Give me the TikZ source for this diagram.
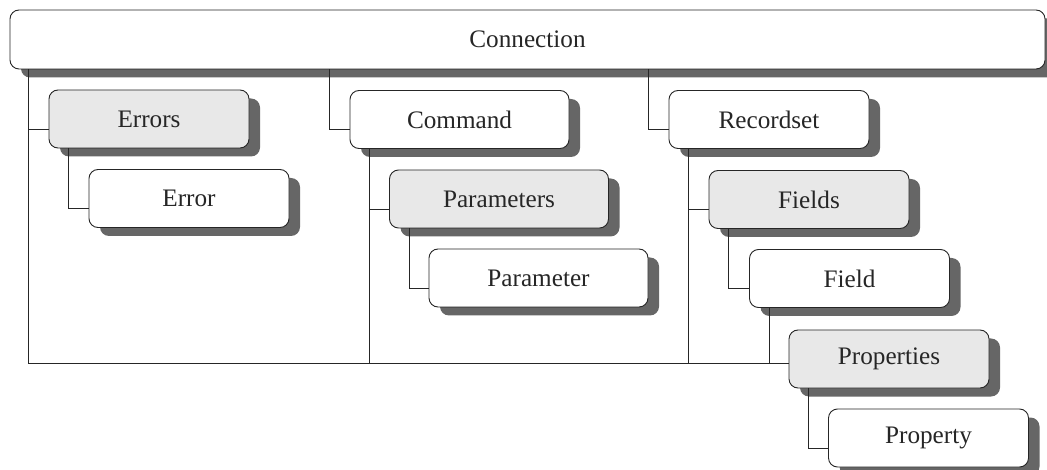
\documentclass[tikz,border=0pt]{standalone}
\usepackage{fontspec}
\setmainfont{Liberation Serif}
\usetikzlibrary{shadows}
\definecolor{shadowgray}{HTML}{666666}
\definecolor{collfill}{HTML}{E8E8E8}
\tikzset{
  obj/.style={draw=black!85, line width=0.9pt, rounded corners=9pt, fill=white,
    minimum width=200pt, minimum height=58pt, inner sep=0pt,
    font=\fontsize{25.2}{29}\selectfont, text=black!85,
    drop shadow={shadow xshift=11pt, shadow yshift=-8.5pt, fill=shadowgray, opacity=1}},
  coll/.style={obj, fill=collfill},
  wide/.style={minimum width=219pt},
  link/.style={draw=black!85, line width=0.8pt}
}
\begin{document}
\begin{tikzpicture}[x=1pt, y=-1pt]
  \useasboundingbox (0,0) rectangle (1047,470);
  \clip (0,0) rectangle (1047,470);

  % root object
  \node[obj, minimum width=1035pt, minimum height=59pt] (conn) at (527.5,39.5) {Connection};

  % Errors branch
  \node[coll] (errors) at (149,119) {Errors};
  \node[obj]  (error)  at (189,198.5) {Error};

  % Command branch
  \node[obj, wide]  (command)    at (459.5,119.5) {Command};
  \node[coll, wide] (parameters) at (499,199) {Parameters};
  \node[obj, wide]  (parameter)  at (538.5,278) {Parameter};

  % Recordset branch
  \node[obj]  (recordset)  at (769,119.5) {Recordset};
  \node[coll] (fields)     at (809,199.5) {Fields};
  \node[obj]  (field)      at (849.5,278.5) {Field};
  \node[coll] (properties) at (889,359) {Properties};
  \node[obj]  (property)   at (928.5,438) {Property};

  % common base line along the bottom
  \coordinate (base) at ([yshift=-4pt]properties.west);

  % children of Connection
  \draw[link] ([xshift=-20pt]errors.west |- conn.south) -- ([xshift=-20pt]errors.west |- base) -- (base);
  \draw[link] ([yshift=-10pt]errors.west) -- ([yshift=-10pt, xshift=-20pt]errors.west);
  \draw[link] ([xshift=-20pt]command.west |- conn.south) |- ([yshift=-10pt]command.west);
  \draw[link] ([xshift=-20pt]recordset.west |- conn.south) |- ([yshift=-10pt]recordset.west);

  % Errors -> Error
  \draw[link] ([xshift=20pt]errors.south west) |- ([yshift=-10pt]error.west);

  % Command -> Parameters -> Parameter
  \draw[link] ([xshift=20pt]command.south west) -- ([xshift=20pt]command.south west |- base);
  \draw[link] ([yshift=-10pt]parameters.west) -| ([xshift=20pt]command.south west);
  \draw[link] ([xshift=20pt]parameters.south west) |- ([yshift=-10pt]parameter.west);

  % Recordset -> Fields -> Field -> Properties -> Property
  \draw[link] ([xshift=20pt]recordset.south west) -- ([xshift=20pt]recordset.south west |- base);
  \draw[link] ([yshift=-10pt]fields.west) -| ([xshift=20pt]recordset.south west);
  \draw[link] ([xshift=20pt]fields.south west) |- ([yshift=-10pt]field.west);
  \draw[link] ([xshift=20pt]field.south west) -- ([xshift=20pt]field.south west |- base);
  \draw[link] ([xshift=20pt]properties.south west) |- ([yshift=-10pt]property.west);
\end{tikzpicture}
\end{document}
